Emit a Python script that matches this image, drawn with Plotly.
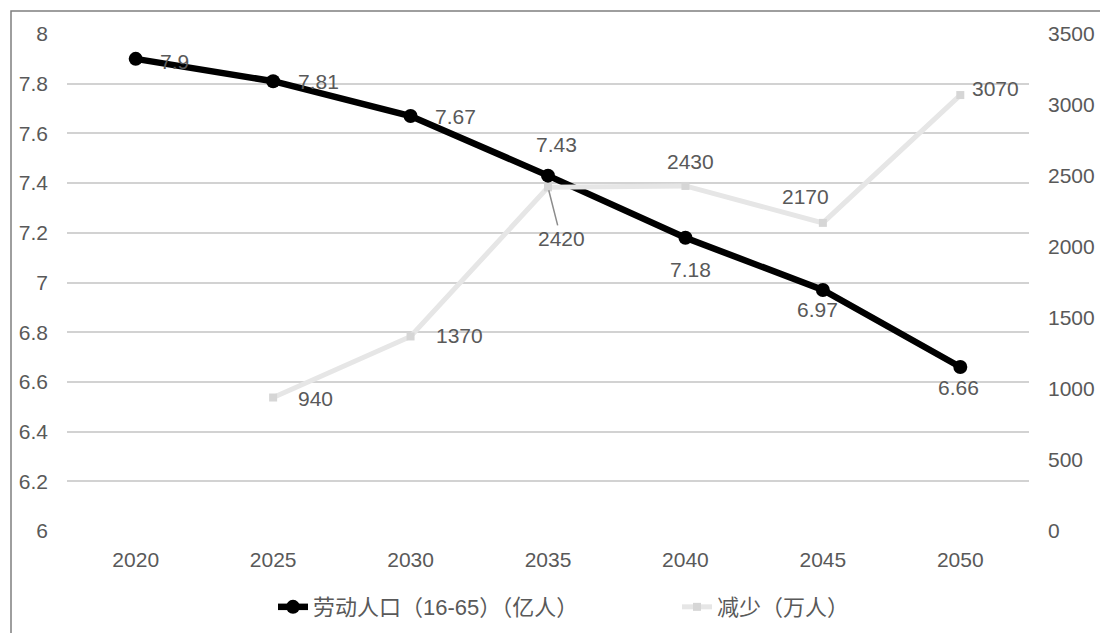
import plotly.graph_objects as go

years = ["2020", "2025", "2030", "2035", "2040", "2045", "2050"]
labor = [7.9, 7.81, 7.67, 7.43, 7.18, 6.97, 6.66]
decline_years = ["2025", "2030", "2035", "2040", "2045", "2050"]
decline = [940, 1370, 2420, 2430, 2170, 3070]

# label offsets (px) relative to each point: (xshift, yshift)
labor_offsets = [(39, -3), (45, 0), (45, 0), (8, 31), (5, -32), (-5, -20), (-2, -21)]
decline_offsets = [(42, -1), (49, 1), None, (5, 24), (-17, 26), (35, 7)]

FONT = "Liberation Sans, Arial, Noto Sans CJK SC, sans-serif"
TXT = "#595959"
LBL = dict(size=21, color=TXT, family=FONT)

fig = go.Figure()

fig.add_trace(go.Scatter(
    x=decline_years, y=decline, yaxis="y2", name="减少（万人）",
    mode="lines+markers",
    line=dict(color="#e6e6e6", width=5),
    marker=dict(color="#d6d6d6", size=8, symbol="square"),
    cliponaxis=False, legend="legend2",
))

fig.add_trace(go.Scatter(
    x=years, y=labor, name="劳动人口（16-65）（亿人）",
    mode="lines+markers",
    line=dict(color="#000000", width=6.5),
    marker=dict(color="#000000", size=14),
    cliponaxis=False, legend="legend",
))

for yr, v, off in zip(years, labor, labor_offsets):
    fig.add_annotation(x=years.index(yr), y=v, xref="x", yref="y",
                       text=f"{v:g}", showarrow=False,
                       xshift=off[0], yshift=off[1], font=LBL)

for yr, v, off in zip(decline_years, decline, decline_offsets):
    if off is None:
        # label pulled below the crossing, with a leader line
        fig.add_annotation(x=years.index(yr), y=v, xref="x", yref="y2",
                           text=str(v), showarrow=True, arrowhead=0,
                           arrowwidth=1.5, arrowcolor="#8c8c8c",
                           ax=13, ay=51, standoff=3, font=LBL)
    else:
        fig.add_annotation(x=years.index(yr), y=v, xref="x", yref="y2",
                           text=str(v), showarrow=False,
                           xshift=off[0], yshift=off[1], font=LBL)

# outer frame
fig.add_shape(type="rect", xref="paper", yref="paper",
              x0=(11 - 67) / 962, x1=(1130 - 67) / 962,
              y0=(531 - 660) / 497, y1=(531 - 11) / 497,
              line=dict(color="#7f7f7f", width=1.5), fillcolor="rgba(0,0,0,0)",
              layer="below")

legend_style = dict(orientation="h", yanchor="middle", y=-0.153, xanchor="left",
                    font=dict(size=22, color=TXT), bgcolor="rgba(0,0,0,0)")

fig.update_layout(
    width=1100, height=633,
    margin=dict(l=67, r=71, t=34, b=102, autoexpand=False),
    paper_bgcolor="white", plot_bgcolor="white",
    font=dict(family=FONT, color=TXT, size=21),
    showlegend=True,
    legend=dict(x=(273 - 67) / 962, **legend_style),
    legend2=dict(x=(677 - 67) / 962, **legend_style),
    xaxis=dict(type="category", categoryorder="array", categoryarray=years,
               range=[-0.5, 6.5], showgrid=False, showline=False, ticks="",
               tickfont=dict(size=21, color=TXT), ticklabelstandoff=14),
    yaxis=dict(range=[6, 8], dtick=0.2, tick0=6, showgrid=True, gridcolor="#d2d2d2",
               gridwidth=1.5, zeroline=False, showline=False, ticks="",
               tickformat="~g", tickfont=dict(size=21, color=TXT), ticklabelstandoff=18),
    yaxis2=dict(range=[0, 3500], dtick=500, overlaying="y", side="right",
                showgrid=False, zeroline=False, showline=False, ticks="",
                tickfont=dict(size=21, color=TXT), ticklabelstandoff=18),
)

fig.write_html("out.html")
